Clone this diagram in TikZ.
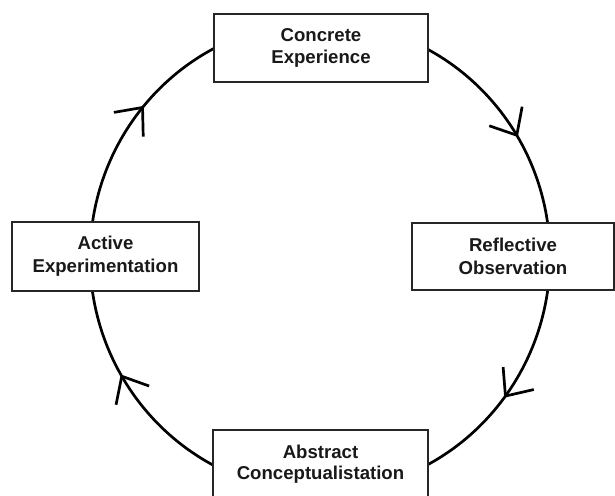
\documentclass[tikz,border=0pt]{standalone}
\usepackage{fontspec}
\setmainfont{Liberation Sans}
\usetikzlibrary{arrows.meta,decorations.markings}
\begin{document}
\begin{tikzpicture}[x=1pt,y=1pt,
  stage/.style={draw=black!85, line width=1.3pt, fill=white, align=center,
    inner sep=0pt, text=black!90,
    font=\fontsize{18.6}{21.5}\selectfont\bfseries},
  sidestage/.style={stage, font=\fontsize{18.6}{23.3}\selectfont\bfseries},
  barb/.tip={Straight Barb[length=22pt,width=38pt]},
  cyc/.style={line width=2.7pt, postaction={decorate},
    decoration={markings,
      mark=at position 0.164 with {\arrow{barb}},
      mark=at position 0.353 with {\arrow{barb}},
      mark=at position 0.666 with {\arrow{barb}},
      mark=at position 0.862 with {\arrow{barb}}}}
]
\useasboundingbox (0,0) rectangle (615,495);
\clip (0,0) rectangle (615,495);
\coordinate (c) at (320,238);
\draw[cyc] (c) ++(0,235) arc[start angle=90, end angle=-270, x radius=230pt, y radius=235pt];
\node[stage, minimum width=214pt, minimum height=68pt] (ce) at (321,447) {Concrete\\Experience};
\node[sidestage, minimum width=202pt, minimum height=67pt] (ro) at (513,238.5) {Reflective\\Observation};
\node[stage, minimum width=215pt, minimum height=68pt] (ac) at (320.5,31) {Abstract\\Conceptualistation};
\node[sidestage, minimum width=187pt, minimum height=69pt] (ae) at (105.5,238.5) {Active\\Experimentation};
\end{tikzpicture}
\end{document}
